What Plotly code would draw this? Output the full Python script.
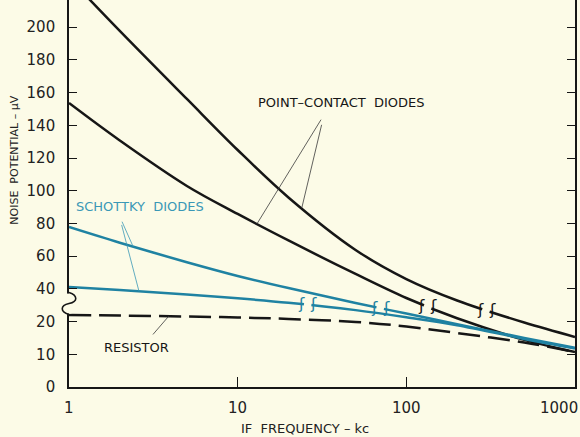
import numpy as np
import plotly.graph_objects as go

# IF frequency (kc) and noise potential (microvolts) for each device
freq_kc = [1, 2, 5, 10, 20, 50, 100, 200, 500, 1000]
point_contact_a = [230.1, 197.7, 156.1, 124.9, 95.9, 63.8, 46.0, 32.9, 19.7, 15.3]
point_contact_b = [153.6, 130.7, 102.9, 85.8, 69.6, 49.1, 34.4, 22.0, 14.4, 10.7]
schottky_a = [77.8, 68.2, 56.3, 47.9, 40.5, 31.4, 24.9, 19.2, 15.0, 12.0]
schottky_b = [41.1, 39.3, 36.5, 34.2, 31.5, 27.0, 22.7, 18.9, 14.7, 11.8]
resistor = [24.0, 23.7, 23.1, 22.5, 21.6, 19.9, 18.5, 16.5, 13.6, 10.7]

y_tick_values = [0, 10, 20, 40, 60, 80, 100, 120, 140, 160, 180, 200]
x_tick_values = [1, 10, 100, 1000]

# frequency (kc) where each curve carries its scale-break mark
break_freq = {"pc_a": 297, "pc_b": 134, "sk_a": 70, "sk_b": 26}

BG = "#fcfbe7"
INK = "#161616"
TEAL = "#1f82a2"
TEAL_TEXT = "#3a98b6"
FONT = "DejaVu Sans"
Y_TOP = 11.83  # axis units visible at the top edge


def to_axis(v):
    """Broken scale: 10 uV per division up to 20, then 20 uV per division."""
    v = np.asarray(v, dtype=float)
    return np.where(v <= 20, v / 10.0, 2.0 + (v - 20.0) / 20.0)


def curve_at(f, series):
    return float(np.interp(np.log10(f), np.log10(freq_kc), to_axis(series)))


fig = go.Figure()

curves = [
    ("pc_a", point_contact_a, INK, "solid"),
    ("pc_b", point_contact_b, INK, "solid"),
    ("sk_a", schottky_a, TEAL, "solid"),
    ("sk_b", schottky_b, TEAL, "solid"),
    ("res", resistor, INK, "22px,8px"),
]
for name, series, color, dash in curves:
    fig.add_trace(go.Scatter(
        x=freq_kc, y=to_axis(series), mode="lines", name=name,
        line=dict(color=color, width=2.5, dash=dash, shape="spline", smoothing=1.0),
        showlegend=False, hoverinfo="skip"))

annotations = []
series_by_name = {n: (s, c) for n, s, c, _ in curves}

# scale-break marks: a small gap in the curve flanked by two strokes
for name, f in break_freq.items():
    series, color = series_by_name[name]
    lo, hi = f * 10 ** -0.022, f * 10 ** 0.022
    fig.add_trace(go.Scatter(
        x=[lo, hi], y=[curve_at(lo, series), curve_at(hi, series)], mode="lines",
        line=dict(color=BG, width=5), showlegend=False, hoverinfo="skip"))
    for shift in (-6, 6):
        annotations.append(dict(
            x=np.log10(f), y=curve_at(f, series), xref="x", yref="y",
            text="ʃ", showarrow=False, xshift=shift, yshift=1,
            font=dict(family=FONT, size=16, color=color)))


def leader(f_tip, series, f_tail, v_tail, color, width=0.8):
    return dict(x=np.log10(f_tip), y=curve_at(f_tip, series), xref="x", yref="y",
                ax=np.log10(f_tail), ay=float(to_axis(v_tail)), axref="x", ayref="y",
                text=" ", showarrow=True, arrowhead=0, arrowwidth=width,
                arrowcolor=color, standoff=0, startstandoff=0)


annotations += [
    leader(24, point_contact_a, 32.5, 146.4, "#3a3a3a"),
    leader(13, point_contact_b, 32.5, 146.4, "#3a3a3a"),
    leader(2.4, schottky_a, 1.98, 85.2, TEAL_TEXT),
    leader(2.6, schottky_b, 1.98, 85.2, TEAL_TEXT),
    leader(3.9, resistor, 3.02, 15.0, "#3a3a3a"),
]


def label(text, f, v, color, size=12.5):
    return dict(x=np.log10(f), y=float(to_axis(v)), xref="x", yref="y", text=text,
                xanchor="center", yanchor="middle", showarrow=False,
                font=dict(family=FONT, size=size, color=color))


annotations += [
    label("POINT–CONTACT  DIODES", 41, 154, INK, 13),
    label("SCHOTTKY  DIODES", 2.64, 90.6, TEAL_TEXT, 13),
    label("RESISTOR", 2.53, 12.2, INK, 13),
]

# x tick labels (the last one sits against the right edge)
for xv in x_tick_values:
    last = xv == x_tick_values[-1]
    annotations.append(dict(
        x=np.log10(xv), y=0, xref="x", yref="paper", yanchor="top",
        xanchor="right" if last else "center", xshift=5 if last else 0, yshift=-10,
        text=str(xv), showarrow=False, font=dict(family=FONT, size=15, color="#222")))

# partially visible 220 label above the top edge
annotations.append(dict(
    x=-0.0237, y=float(to_axis(220)) / Y_TOP, xref="paper", yref="paper",
    xanchor="right", yanchor="middle", text="220", showarrow=False,
    font=dict(family=FONT, size=15, color="#222")))

# axis titles
annotations += [
    dict(x=0.466, y=-0.1085, xref="paper", yref="paper", text="IF  FREQUENCY – kc",
         xanchor="center", yanchor="middle", showarrow=False,
         font=dict(family=FONT, size=13, color="#222")),
    dict(x=-0.107, y=0.587, xref="paper", yref="paper", text="NOISE  POTENTIAL – μV",
         xanchor="center", yanchor="middle", textangle=-90, showarrow=False,
         font=dict(family=FONT, size=11, color="#222")),
]

# break symbol on the left axis
brk_y = 2.55
shapes = [
    dict(type="rect", xref="paper", yref="y", xsizemode="pixel", ysizemode="pixel",
         xanchor=0, yanchor=brk_y, x0=-2.5, x1=2.5, y0=-10, y1=10,
         fillcolor=BG, line=dict(width=0), layer="above"),
    dict(type="path", xref="paper", yref="y", xsizemode="pixel", ysizemode="pixel",
         xanchor=0, yanchor=brk_y,
         path="M 0 11 C 9 8, 9 2, 0 0 C -9 -2, -9 -8, 0 -11",
         line=dict(color=INK, width=1.6), layer="above"),
]

fig.update_layout(
    width=580, height=437,
    margin=dict(l=69, r=5, t=0, b=50),
    paper_bgcolor=BG, plot_bgcolor=BG,
    showlegend=False,
    annotations=annotations,
    shapes=shapes,
    xaxis=dict(type="log", range=[0, 3], tickvals=x_tick_values, showticklabels=False,
               ticks="inside", ticklen=10, tickwidth=1.4, tickcolor=INK,
               showline=True, linecolor=INK, linewidth=1.6, showgrid=False,
               zeroline=False, mirror=False),
    yaxis=dict(range=[0, Y_TOP], tickvals=list(to_axis(y_tick_values)),
               ticktext=[str(v) for v in y_tick_values],
               ticks="inside", ticklen=8, tickwidth=1.4, tickcolor=INK,
               ticklabelstandoff=9,
               tickfont=dict(family=FONT, size=15, color="#222"),
               showline=True, linecolor=INK, linewidth=1.6, showgrid=False,
               zeroline=False, mirror="ticks"),
)

fig.write_html("out.html")
